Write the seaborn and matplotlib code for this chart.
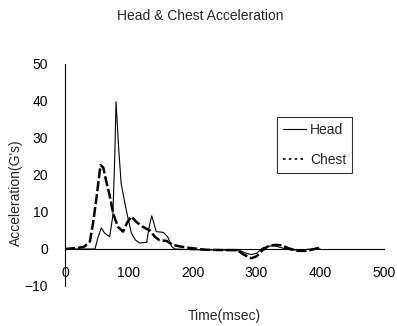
import numpy as np
import pandas as pd
import matplotlib
matplotlib.use("Agg")
import matplotlib.pyplot as plt
import seaborn as sns
from matplotlib.lines import Line2D

# Data (time in msec, acceleration in G's)
t_head = [0, 20, 40, 47, 52, 57, 62, 70, 75, 78, 80, 84, 88, 96, 104, 110, 117,
          128, 132, 136, 140, 143, 148, 154, 161, 167, 172, 200, 250, 275, 285,
          292, 300, 310, 320, 330, 340, 355, 370, 385, 400]
head = [0, 0, 0, 0, 3.3, 5.7, 4.3, 3.3, 9, 25, 39.8, 27.6, 17.7, 10.5, 4.3, 2.5,
        1.6, 1.8, 6.0, 9.0, 6.5, 4.7, 4.6, 4.5, 3.3, 0.7, 0, -0.2, -0.3, -0.5,
        -1.2, -1.5, -1.2, 0.3, 0.8, 0.8, 0.3, -0.3, -0.3, 0, 0]

t_chest = [0, 20, 30, 39, 44, 49.5, 55.7, 60, 65, 70, 75.5, 83, 91, 97, 104, 112,
           122, 133, 141, 148, 159, 169, 180, 195, 220, 250, 270, 280, 292, 300,
           308, 320, 330, 340, 350, 365, 380, 395, 400]
chest = [0, 0.3, 0.6, 2, 7, 14, 22.7, 22, 18, 14.5, 9.6, 6, 4.7, 7, 8.8, 7.3, 6,
         5, 3.3, 2.4, 2.2, 1.1, 0.7, 0.3, -0.2, -0.3, -0.3, -1.5, -2.5, -2.0,
         -0.5, 0.9, 1.1, 1, 0.2, -0.5, -0.5, 0.2, 0.2]

x_ticks = [0, 100, 200, 300, 400, 500]
y_ticks = [-10, 0, 10, 20, 30, 40, 50]

sns.set_style("white")
plt.rcParams["font.family"] = ["Liberation Sans", "DejaVu Sans"]

fig = plt.figure(figsize=(3.97, 3.26), dpi=100)
ax = fig.add_axes([0.1637, 0.1227, 0.8036, 0.681])

chest_df = pd.DataFrame({"t": t_chest, "acc": chest})
head_df = pd.DataFrame({"t": t_head, "acc": head})

sns.lineplot(data=chest_df, x="t", y="acc", ax=ax, color="black",
             linewidth=1.8, linestyle=(0, (4, 1.2)), estimator=None)
sns.lineplot(data=head_df, x="t", y="acc", ax=ax, color="black",
             linewidth=0.8, estimator=None)

ax.set_xlim(0, 500)
ax.set_ylim(-10, 50)
ax.set_xticks(x_ticks)
ax.set_yticks(y_ticks)

ax.spines["top"].set_visible(False)
ax.spines["right"].set_visible(False)
ax.spines["bottom"].set_position(("data", 0))
for s in ["left", "bottom"]:
    ax.spines[s].set_color("black")
    ax.spines[s].set_linewidth(0.8)

ax.tick_params(axis="x", direction="in", length=4, width=0.8, pad=12,
               labelsize=10, colors="black")
ax.tick_params(axis="y", direction="in", length=3, width=0.8, pad=12,
               labelsize=10, colors="black")

ax.set_xlabel("Time(msec)", fontsize=10)
ax.set_ylabel("Acceleration(G's)", fontsize=10)
ax.xaxis.set_label_coords(0.5, -0.105)
ax.yaxis.set_label_coords(-0.133, 0.42)

handles = [Line2D([], [], color="black", linewidth=0.8),
           Line2D([], [], color="black", linewidth=1.2, linestyle=(0, (1.5, 2)))]
leg = ax.legend(handles, ["Head", "Chest"], loc="upper left",
                bbox_to_anchor=(0.665, 0.761), fontsize=10, frameon=True,
                fancybox=False, edgecolor="black", handlelength=1.7,
                labelspacing=1.2, borderpad=0.4, handletextpad=0.25,
                borderaxespad=0)
leg.get_frame().set_linewidth(0.8)

fig.text(0.504, 0.952, "Head & Chest Acceleration", ha="center", va="center",
         fontsize=10)

fig.savefig("out.png", dpi=100, facecolor="white")
